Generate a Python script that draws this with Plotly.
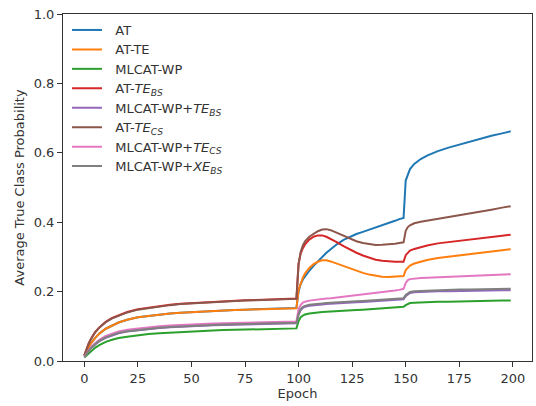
import plotly.graph_objects as go

# Sampled epochs at which each curve was logged
epochs = [0, 1, 2, 3, 5, 7, 10, 13, 16, 20, 25, 30, 35, 40, 45, 50, 55, 60, 65, 70,
          75, 80, 85, 90, 95, 99,
          100, 101, 102, 103, 105, 107, 109, 111, 113, 115, 118, 121, 124, 127, 130,
          133, 136, 139, 142, 145, 147, 149,
          150, 151, 152, 154, 157, 160, 165, 170, 175, 180, 185, 190, 195, 199]

at = [0.015, 0.028, 0.040, 0.050, 0.066, 0.079, 0.093, 0.103, 0.111, 0.119, 0.126, 0.130,
      0.134, 0.137, 0.139, 0.141, 0.143, 0.145, 0.146, 0.147, 0.148, 0.149, 0.150, 0.151,
      0.152, 0.153,
      0.200, 0.222, 0.235, 0.244, 0.260, 0.274, 0.287, 0.300, 0.312, 0.322, 0.337, 0.349,
      0.358, 0.366, 0.372, 0.378, 0.385, 0.392, 0.398, 0.404, 0.409, 0.412,
      0.520, 0.540, 0.553, 0.568, 0.582, 0.592, 0.605, 0.615, 0.624, 0.633, 0.641, 0.649,
      0.656, 0.662]

at_te = [0.015, 0.028, 0.040, 0.050, 0.066, 0.079, 0.093, 0.103, 0.111, 0.119, 0.126, 0.130,
         0.134, 0.137, 0.139, 0.141, 0.143, 0.145, 0.146, 0.147, 0.148, 0.149, 0.150, 0.151,
         0.151, 0.152,
         0.205, 0.225, 0.240, 0.252, 0.268, 0.279, 0.286, 0.290, 0.290, 0.287, 0.280, 0.273,
         0.266, 0.260, 0.254, 0.249, 0.245, 0.243, 0.242, 0.243, 0.244, 0.245,
         0.262, 0.270, 0.275, 0.281, 0.287, 0.291, 0.297, 0.301, 0.305, 0.309, 0.313, 0.316,
         0.319, 0.322]

mlcat_wp = [0.010, 0.016, 0.022, 0.028, 0.038, 0.046, 0.055, 0.061, 0.066, 0.070, 0.075, 0.078,
            0.080, 0.082, 0.084, 0.085, 0.087, 0.088, 0.089, 0.090, 0.091, 0.092, 0.092, 0.093,
            0.093, 0.094,
            0.115, 0.126, 0.131, 0.134, 0.137, 0.139, 0.140, 0.141, 0.142, 0.143, 0.144, 0.145,
            0.146, 0.147, 0.148, 0.149, 0.150, 0.151, 0.152, 0.153, 0.154, 0.156,
            0.161, 0.165, 0.167, 0.168, 0.169, 0.170, 0.171, 0.171, 0.172, 0.172, 0.173, 0.173,
            0.174, 0.174]

at_te_bs = [0.016, 0.035, 0.050, 0.063, 0.083, 0.097, 0.113, 0.124, 0.132, 0.141, 0.149, 0.154,
            0.158, 0.162, 0.165, 0.167, 0.169, 0.171, 0.173, 0.174, 0.175, 0.176, 0.177, 0.178,
            0.179, 0.180,
            0.280, 0.310, 0.325, 0.336, 0.350, 0.358, 0.362, 0.362, 0.358, 0.352, 0.342, 0.331,
            0.321, 0.312, 0.304, 0.297, 0.292, 0.289, 0.287, 0.286, 0.286, 0.286,
            0.305, 0.313, 0.318, 0.323, 0.329, 0.333, 0.339, 0.343, 0.347, 0.351, 0.355, 0.358,
            0.361, 0.364]

mlcat_wp_te_bs = [0.012, 0.020, 0.028, 0.036, 0.047, 0.057, 0.067, 0.074, 0.080, 0.085, 0.089,
                  0.092, 0.095, 0.097, 0.099, 0.100, 0.102, 0.103, 0.104, 0.105, 0.106, 0.107,
                  0.107, 0.108, 0.108, 0.109,
                  0.133, 0.147, 0.153, 0.156, 0.159, 0.161, 0.162, 0.163, 0.164, 0.165, 0.166,
                  0.167, 0.168, 0.169, 0.170, 0.171, 0.172, 0.173, 0.174, 0.175, 0.176, 0.178,
                  0.187, 0.193, 0.196, 0.198, 0.199, 0.200, 0.201, 0.201, 0.202, 0.202, 0.203,
                  0.203, 0.204, 0.204]

at_te_cs = [0.016, 0.034, 0.049, 0.062, 0.082, 0.096, 0.112, 0.123, 0.131, 0.140, 0.148, 0.153,
            0.157, 0.161, 0.164, 0.166, 0.168, 0.170, 0.172, 0.173, 0.174, 0.175, 0.176, 0.177,
            0.178, 0.179,
            0.280, 0.315, 0.333, 0.345, 0.358, 0.367, 0.374, 0.379, 0.380, 0.377, 0.369, 0.360,
            0.352, 0.345, 0.340, 0.337, 0.334, 0.335, 0.336, 0.338, 0.340, 0.342,
            0.375, 0.386, 0.391, 0.397, 0.401, 0.404, 0.409, 0.414, 0.419, 0.424, 0.430, 0.436,
            0.442, 0.446]

mlcat_wp_te_cs = [0.013, 0.022, 0.031, 0.039, 0.051, 0.061, 0.072, 0.079, 0.085, 0.090, 0.094,
                  0.097, 0.100, 0.102, 0.104, 0.105, 0.107, 0.108, 0.109, 0.110, 0.111, 0.112,
                  0.112, 0.113, 0.113, 0.114,
                  0.150, 0.162, 0.168, 0.171, 0.174, 0.176, 0.178, 0.179, 0.180, 0.181, 0.183,
                  0.185, 0.187, 0.189, 0.191, 0.193, 0.195, 0.197, 0.200, 0.203, 0.205, 0.208,
                  0.225, 0.233, 0.236, 0.238, 0.239, 0.240, 0.241, 0.243, 0.244, 0.246, 0.247,
                  0.248, 0.249, 0.250]

mlcat_wp_xe_bs = [0.013, 0.021, 0.029, 0.037, 0.048, 0.058, 0.068, 0.075, 0.081, 0.086, 0.090,
                  0.093, 0.096, 0.098, 0.100, 0.101, 0.103, 0.104, 0.105, 0.106, 0.107, 0.108,
                  0.108, 0.109, 0.109, 0.110,
                  0.135, 0.150, 0.156, 0.159, 0.162, 0.164, 0.165, 0.166, 0.167, 0.168, 0.169,
                  0.170, 0.171, 0.172, 0.173, 0.174, 0.175, 0.176, 0.177, 0.178, 0.179, 0.181,
                  0.190, 0.196, 0.199, 0.201, 0.202, 0.203, 0.204, 0.205, 0.206, 0.206, 0.207,
                  0.207, 0.208, 0.208]

series_names = ["AT", "AT-TE", "MLCAT-WP",
                "AT-<i>TE<sub>BS</sub></i>",
                "MLCAT-WP+<i>TE<sub>BS</sub></i>",
                "AT-<i>TE<sub>CS</sub></i>",
                "MLCAT-WP+<i>TE<sub>CS</sub></i>",
                "MLCAT-WP+<i>XE<sub>BS</sub></i>"]
series_values = [at, at_te, mlcat_wp, at_te_bs, mlcat_wp_te_bs, at_te_cs,
                 mlcat_wp_te_cs, mlcat_wp_xe_bs]
colors = ["#1f77b4", "#ff7f0e", "#2ca02c", "#d62728",
          "#9467bd", "#8c564b", "#e377c2", "#7f7f7f"]

x_ticks = [0, 25, 50, 75, 100, 125, 150, 175, 200]
y_ticks = [0.0, 0.2, 0.4, 0.6, 0.8, 1.0]

font_family = "DejaVu Sans"

# Figure geometry (pixels)
W, H = 536, 406
M_L, M_R, M_T, M_B = 63, 4, 14, 45
plot_h = H - M_T - M_B

# One single-entry legend per series so the rows are evenly spaced
legend_first_row = 30.0     # px from top of the figure
legend_row_step = 19.45     # px between rows
legend_left = 0.0085        # paper x of the legend boxes
label_pad = "\u00a0\u00a0"  # extra gap between the line sample and its label

fig = go.Figure()
legend_layouts = {}
for i, (name, vals, col) in enumerate(zip(series_names, series_values, colors)):
    key = "legend" if i == 0 else f"legend{i + 1}"
    fig.add_trace(go.Scatter(x=epochs, y=vals, mode="lines", name=label_pad + name,
                             line=dict(color=col, width=2), legend=key))
    row_px = legend_first_row + legend_row_step * i
    legend_layouts[key] = dict(
        x=legend_left, y=(H - M_B - row_px) / plot_h,
        xanchor="left", yanchor="middle",
        bgcolor="rgba(0,0,0,0)", borderwidth=0,
        font=dict(family=font_family, size=13, color="#333333"))

axis_common = dict(showline=True, linecolor="#333333", linewidth=1, mirror=True,
                   ticks="outside", ticklen=5, tickcolor="#333333", tickwidth=1,
                   showgrid=False, zeroline=False,
                   tickfont=dict(family=font_family, size=13, color="#333333"))

fig.update_layout(
    width=W, height=H,
    margin=dict(l=M_L, r=M_R, t=M_T, b=M_B),
    plot_bgcolor="white", paper_bgcolor="white",
    font=dict(family=font_family, size=13, color="#333333"),
    xaxis=dict(range=[-9.95, 208.95], tickvals=x_ticks,
               ticktext=[str(v) for v in x_ticks],
               title=dict(text="Epoch", standoff=4, font=dict(size=13)),
               **axis_common),
    yaxis=dict(range=[0, 1], tickvals=y_ticks,
               ticktext=[f"{v:.1f}" for v in y_ticks],
               title=dict(text="Average True Class Probability", standoff=6,
                          font=dict(size=13)),
               **axis_common),
    showlegend=True,
    **legend_layouts,
)

fig.write_html("out.html")
